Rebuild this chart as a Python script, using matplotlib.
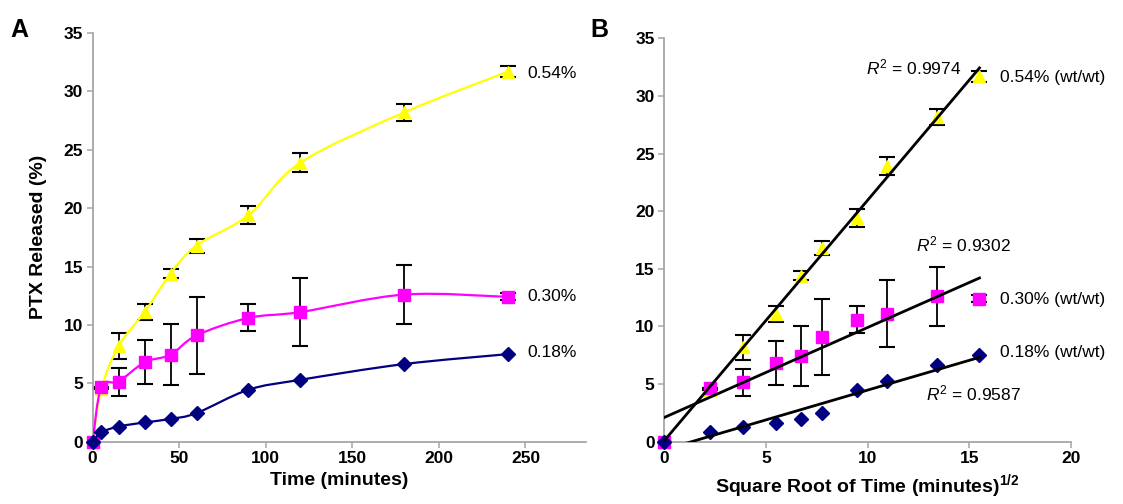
import numpy as np
import matplotlib
matplotlib.use('Agg')
import matplotlib.pyplot as plt
from matplotlib.path import Path
from matplotlib.patches import PathPatch

plt.rcParams['font.family'] = ['Liberation Sans', 'DejaVu Sans']
plt.rcParams['mathtext.fontset'] = 'custom'
plt.rcParams['mathtext.rm'] = 'Liberation Sans'
plt.rcParams['mathtext.it'] = 'Liberation Sans:italic'
plt.rcParams['mathtext.bf'] = 'Liberation Sans:bold'

# data
time_min = [0, 5, 15, 30, 45, 60, 90, 120, 180, 240]
sqrt_time = [0, 2.24, 3.87, 5.48, 6.71, 7.75, 9.49, 10.95, 13.42, 15.49]

ptx_054 = [0, 4.5, 8.2, 11.1, 14.4, 16.8, 19.4, 23.9, 28.2, 31.7]
err_054 = [0, 0, 1.1, 0.7, 0.4, 0.6, 0.8, 0.8, 0.7, 0.5]
ptx_030 = [0, 4.7, 5.15, 6.8, 7.45, 9.1, 10.6, 11.1, 12.6, 12.4]
err_030 = [0, 0, 1.2, 1.9, 2.6, 3.3, 1.15, 2.9, 2.55, 0.3]
ptx_018 = [0, 0.8, 1.3, 1.65, 1.95, 2.45, 4.45, 5.3, 6.65, 7.5]

labels_a = ['0.54%', '0.30%', '0.18%']
labels_b = ['0.54% (wt/wt)', '0.30% (wt/wt)', '0.18% (wt/wt)']
r2_text = ['0.9974', '0.9302', '0.9587']

series = [(ptx_054, err_054, '#FFFF00', '^', 9),
          (ptx_030, err_030, '#FF00FF', 's', 8),
          (ptx_018, None, '#000080', 'D', 7.5)]

fig = plt.figure(figsize=(11.23, 5.04), dpi=100)
axA = fig.add_axes([0.0825, 0.1236, 0.4394, 0.811])
axB = fig.add_axes([0.5915, 0.1236, 0.3622, 0.8004])

def style_axis(ax):
    for s in ['top', 'right']:
        ax.spines[s].set_visible(False)
    for s in ['left', 'bottom']:
        ax.spines[s].set_color('#A6A6A6')
        ax.spines[s].set_linewidth(1.3)
    ax.tick_params(direction='out', length=4, width=1.1, color='#A6A6A6',
                   labelsize=12.5, pad=3)
    for lab in ax.get_xticklabels() + ax.get_yticklabels():
        lab.set_fontweight('bold')

def smooth_line(ax, x, y, col):
    # excel-style smoothed line: bezier path through the points
    p = np.column_stack([x, y]).astype(float)
    verts = [p[0]]
    codes = [Path.MOVETO]
    n = len(p)
    for i in range(n - 1):
        p0 = p[i - 1] if i > 0 else p[i]
        p3 = p[i + 2] if i + 2 < n else p[i + 1]
        c1 = p[i] + (p[i + 1] - p0) / 6
        c2 = p[i + 1] - (p3 - p[i]) / 6
        verts += [c1, c2, p[i + 1]]
        codes += [Path.CURVE4] * 3
    ax.add_patch(PathPatch(Path(verts, codes), fill=False, edgecolor=col,
                           lw=1.6, zorder=3))

# panel A
for y, e, col, mk, ms in series:
    if e is not None:
        axA.errorbar(time_min, y, yerr=e, fmt='none', ecolor='black',
                     elinewidth=1.3, capsize=6, capthick=1.5, zorder=2)
    smooth_line(axA, time_min, y, col)
    axA.plot(time_min, y, ls='none', marker=mk, ms=ms,
             mec=col, mfc=col, zorder=3, clip_on=False)

axA.text(251, 31.5, labels_a[0], fontsize=12.5, va='center')
axA.text(251, 12.4, labels_a[1], fontsize=12.5, va='center')
axA.text(251, 7.6, labels_a[2], fontsize=12.5, va='center')
axA.set_xlim(0, 285)
axA.set_ylim(0, 35)
axA.set_xticks([0, 50, 100, 150, 200, 250])
axA.set_yticks(range(0, 36, 5))
style_axis(axA)
axA.set_xlabel('Time (minutes)', fontsize=14, fontweight='bold', labelpad=4)
axA.set_ylabel('PTX Released (%)', fontsize=14, fontweight='bold', labelpad=12)

# panel B
xs = np.array(sqrt_time)
fit_x = np.array([0, 15.5])
for y, e, col, mk, ms in series:
    if e is not None:
        axB.errorbar(sqrt_time, y, yerr=e, fmt='none', ecolor='black',
                     elinewidth=1.3, capsize=6, capthick=1.5, zorder=2)
    axB.plot(sqrt_time, y, ls='none', marker=mk, ms=ms, mec=col, mfc=col,
             zorder=3, clip_on=False)
    k, b = np.polyfit(xs, np.array(y), 1)
    axB.plot(fit_x, k * fit_x + b, color='black', lw=2, zorder=4)

axB.text(14.6, 32.5, r'$\mathit{R}^2$ = ' + r2_text[0], fontsize=12.5,
         ha='right', va='center')
axB.text(14.7, 17.1, r'$\mathit{R}^2$ = ' + r2_text[1], fontsize=12.5,
         ha='center', va='center')
axB.text(15.2, 4.2, r'$\mathit{R}^2$ = ' + r2_text[2], fontsize=12.5,
         ha='center', va='center')
axB.text(16.5, 31.6, labels_b[0], fontsize=12.5, va='center')
axB.text(16.5, 12.3, labels_b[1], fontsize=12.5, va='center')
axB.text(16.5, 7.7, labels_b[2], fontsize=12.5, va='center')
axB.set_xlim(0, 20)
axB.set_ylim(0, 35)
axB.set_xticks([0, 5, 10, 15, 20])
axB.set_yticks(range(0, 36, 5))
style_axis(axB)
axB.set_xlabel(r'Square Root of Time (minutes)$^{\mathbf{1/2}}$', fontsize=14,
               fontweight='bold', labelpad=4)

fig.text(0.009, 0.94, 'A', fontsize=18, fontweight='bold', va='center')
fig.text(0.526, 0.94, 'B', fontsize=18, fontweight='bold', va='center')

fig.savefig('out.png', dpi=100)
